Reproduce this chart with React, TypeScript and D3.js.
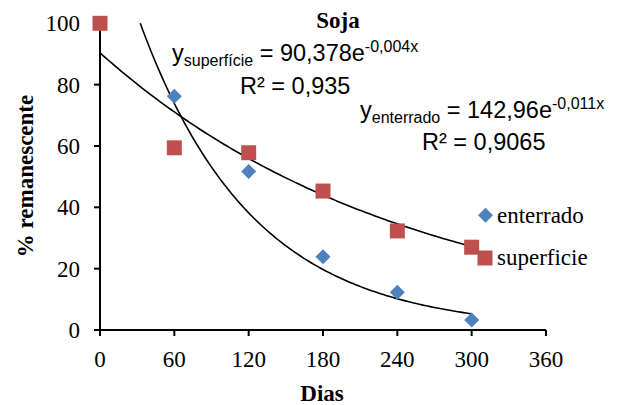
import React from "react";
import * as d3 from "d3";

const W = 618;
const H = 405;

const xTicks = [0, 60, 120, 180, 240, 300, 360];
const yTicks = [0, 20, 40, 60, 80, 100];

const diasEnterrado = [0, 60, 120, 180, 240, 300];
const valEnterrado = [100, 76.2, 51.7, 23.9, 12.3, 3.3];
const diasSuperficie = [0, 60, 120, 180, 240, 300];
const valSuperficie = [100, 59.4, 57.8, 45.3, 32.3, 27.0];

// trendline coefficients as printed on the chart
const coefEnterrado = { a: 142.96, k: 0.011 };
const coefSuperficie = { a: 90.378, k: 0.004 };

const BLUE = "#4F81BD";
const RED = "#C0504D";
const SERIF = "'Liberation Serif', 'Times New Roman', serif";
const SANS = "'Liberation Sans', Arial, sans-serif";

export default function App() {
  const x = d3.scaleLinear().domain([0, 360]).range([100, 546]);
  const y = d3.scaleLinear().domain([0, 100]).range([330, 23.3]);

  const line = d3
    .line<[number, number]>()
    .x((d) => x(d[0]))
    .y((d) => y(d[1]))
    .curve(d3.curveLinear);

  const trend = (c: { a: number; k: number }, x0: number, x1: number) => {
    const pts: [number, number][] = [];
    const n = 120;
    for (let i = 0; i <= n; i++) {
      const xv = x0 + ((x1 - x0) * i) / n;
      pts.push([xv, c.a * Math.exp(-c.k * xv)]);
    }
    return line(pts) || "";
  };

  const startEnterrado = Math.log(coefEnterrado.a / 100) / coefEnterrado.k;

  const diamond = (cx: number, cy: number, r: number) =>
    `M${cx},${cy - r}L${cx + r},${cy}L${cx},${cy + r}L${cx - r},${cy}Z`;

  const fs = 23;
  const eqFs = 23.5;
  const subFs = 16;

  return (
    <svg
      width={W}
      height={H}
      style={{ position: "absolute", left: 0, top: 0, background: "#fff" }}
    >
      <rect width={W} height={H} fill="#fff" />
      {/* axes */}
      <line x1={x(0)} x2={x(0)} y1={y(100)} y2={y(0)} stroke="#000" strokeWidth={2} />
      <line x1={x(0)} x2={x(360)} y1={y(0)} y2={y(0)} stroke="#000" strokeWidth={2} />
      {yTicks.map((t) => (
        <g key={"y" + t}>
          <line x1={x(0) - 6} x2={x(0)} y1={y(t)} y2={y(t)} stroke="#000" strokeWidth={2} />
          <text
            x={80}
            y={y(t)}
            dy="0.35em"
            textAnchor="end"
            fontFamily={SERIF}
            fontSize={fs}
          >
            {t}
          </text>
        </g>
      ))}
      {xTicks.map((t) => (
        <g key={"x" + t}>
          <line x1={x(t)} x2={x(t)} y1={y(0)} y2={y(0) + 6} stroke="#000" strokeWidth={2} />
          <text x={x(t)} y={366.5} textAnchor="middle" fontFamily={SERIF} fontSize={fs}>
            {t}
          </text>
        </g>
      ))}
      <text x={322} y={401} textAnchor="middle" fontFamily={SERIF} fontSize={fs} fontWeight="bold">
        Dias
      </text>
      <text
        transform="translate(33,176) rotate(-90)"
        textAnchor="middle"
        fontFamily={SERIF}
        fontSize={fs}
        fontWeight="bold"
      >
        % remanescente
      </text>
      <text x={338} y={28} textAnchor="middle" fontFamily={SERIF} fontSize={fs} fontWeight="bold">
        Soja
      </text>

      {/* trendlines */}
      <path d={trend(coefSuperficie, 0, 300)} fill="none" stroke="#000" strokeWidth={1.6} />
      <path d={trend(coefEnterrado, startEnterrado, 300)} fill="none" stroke="#000" strokeWidth={1.6} />

      {/* markers */}
      {diasEnterrado.map((d, i) => (
        <path key={"e" + i} d={diamond(x(d), y(valEnterrado[i]), 7.5)} fill={BLUE} />
      ))}
      {diasSuperficie.map((d, i) => (
        <rect
          key={"s" + i}
          x={x(d) - 7.5}
          y={y(valSuperficie[i]) - 7.5}
          width={15}
          height={15}
          fill={RED}
        />
      ))}

      {/* equations */}
      <text x={172} y={61} fontFamily={SANS} fontSize={eqFs}>
        <tspan>y</tspan>
        <tspan fontSize={subFs} dy={5}>superfície</tspan>
        <tspan dy={-5}> = 90,378e</tspan>
        <tspan fontSize={subFs} dy={-9}>-0,004x</tspan>
      </text>
      <text x={240} y={94} fontFamily={SANS} fontSize={eqFs}>
        R² = 0,935
      </text>
      <text x={360} y={118} fontFamily={SANS} fontSize={eqFs}>
        <tspan>y</tspan>
        <tspan fontSize={subFs} dy={5}>enterrado</tspan>
        <tspan dy={-5}> = 142,96e</tspan>
        <tspan fontSize={subFs} dy={-9}>-0,011x</tspan>
      </text>
      <text x={422} y={150} fontFamily={SANS} fontSize={eqFs}>
        R² = 0,9065
      </text>

      {/* legend */}
      <path d={diamond(485.5, 215.3, 7.5)} fill={BLUE} />
      <text x={497} y={223} fontFamily={SERIF} fontSize={fs}>
        enterrado
      </text>
      <rect x={485 - 7.5} y={258 - 7.5} width={15} height={15} fill={RED} />
      <text x={497} y={265} fontFamily={SERIF} fontSize={fs}>
        superficie
      </text>
    </svg>
  );
}
